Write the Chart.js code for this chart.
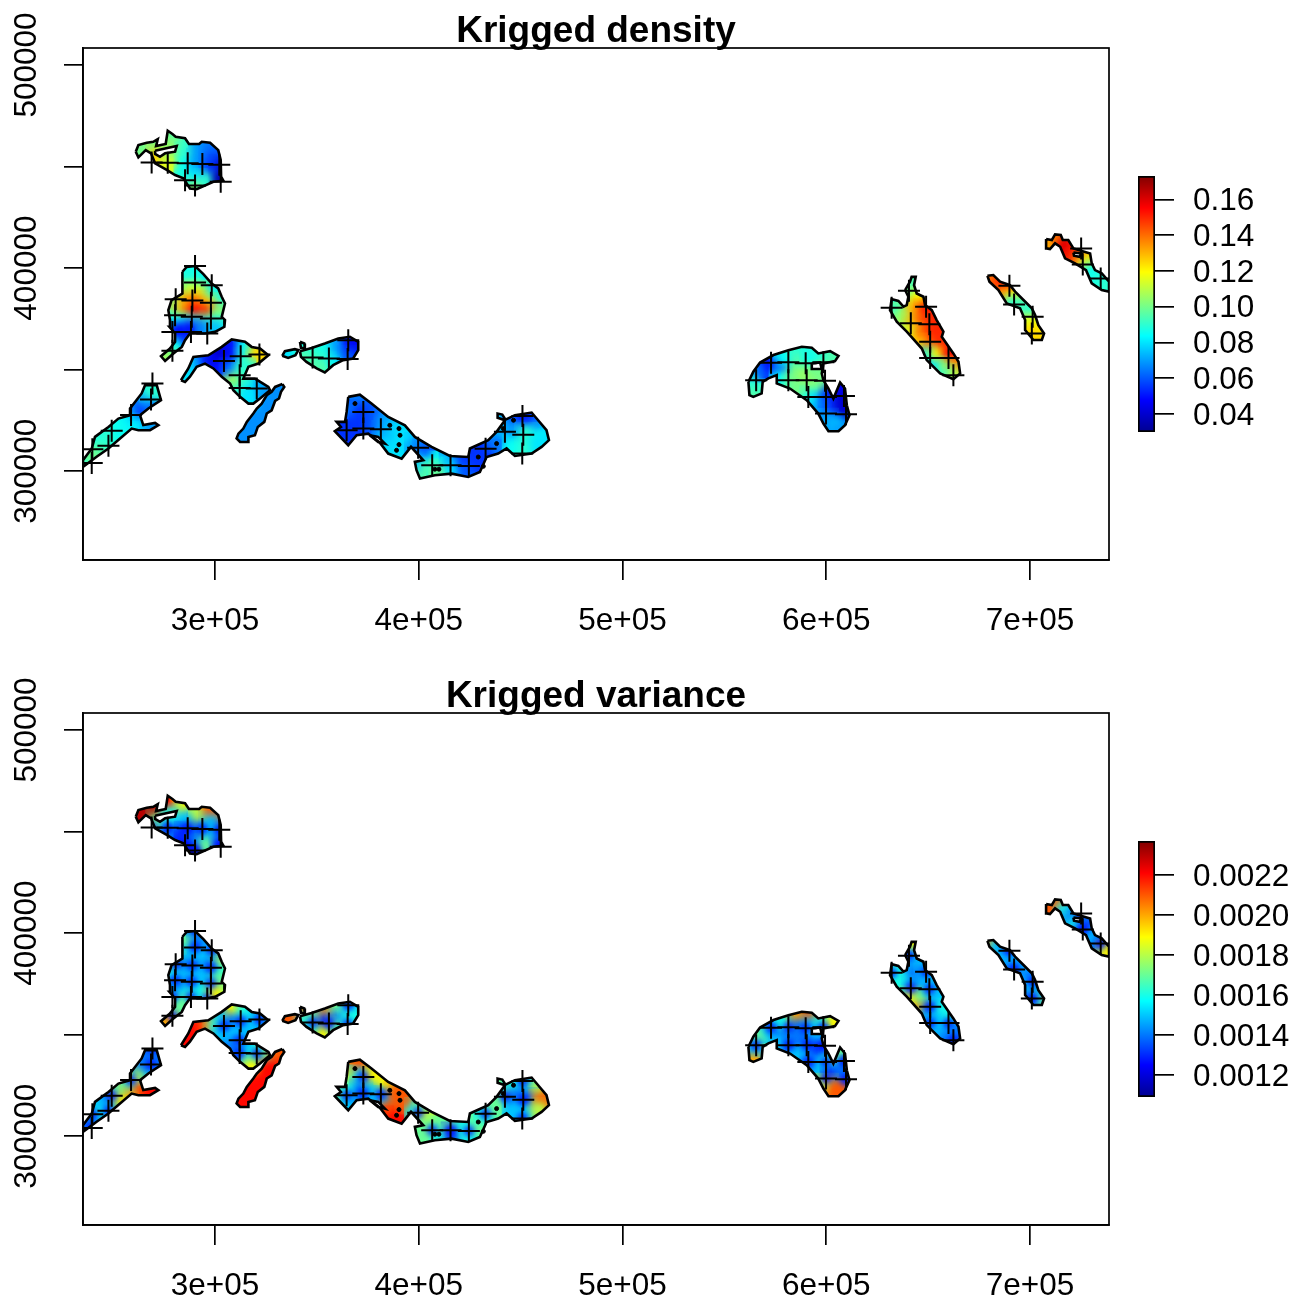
<!DOCTYPE html>
<html>
<head>
<meta charset="utf-8">
<title>Krigged density and variance</title>
<script src="https://cdn.jsdelivr.net/npm/chart.js@4/dist/chart.umd.min.js"></script>
<style>
  html, body { margin: 0; padding: 0; background: #fff; overflow: hidden; }
  canvas { position: absolute; }
</style>
</head>
<body>
<canvas id="densityMap" width="1192" height="632" style="left:0;top:0"></canvas>
<canvas id="varianceMap" width="1192" height="632" style="left:0;top:665px"></canvas>
<canvas id="densityBar" width="168" height="290" style="left:1125px;top:160px"></canvas>
<canvas id="varianceBar" width="168" height="290" style="left:1125px;top:825px"></canvas>
<script>
// Island outlines, in km (easting, northing)
const northIsland = [[261.1,457.3],[262.4,460.6],[266.5,461.7],[269.7,462.2],[271.9,463.5],[271.1,460.1],[275.8,461.1],[276.8,467.6],[279.1,466],[280.7,464.7],[285.3,463.9],[287.2,461.1],[292.2,461.1],[293.5,462.2],[297.6,461.7],[301.6,458.1],[302.8,453.2],[303,445],[304.1,443],[299.2,442.5],[291,438.9],[287.7,439.2],[284.5,444.2],[280.4,445.8],[276.3,448.3],[270.6,451.6],[268.6,456.5],[266,458.1],[262.4,454.5]];
const northHole = [[270.6,457.8],[275.5,458.9],[281.2,460.1],[280.4,457.3],[275.5,456.5],[273,454.8],[270.6,456.2]];
const midIsland = [[284,398.2],[286.1,400.6],[290.2,401],[294.3,397],[298.4,392.4],[301.6,390],[303.3,385.9],[304.9,382.6],[303.3,376],[304.9,374.4],[304.6,371.1],[300,368.6],[295.1,367.8],[287.7,367.8],[285.3,364.5],[283.7,361.2],[279.6,358],[275.5,354.3],[273.5,356.6],[277.9,360.4],[280.4,363.7],[280.4,367.8],[277.6,371.1],[277.9,374.4],[277.1,379.3],[278.7,384.2],[284,387.5],[284,392.4]];
const centerIsland = [[283.3,344.8],[286.9,350.6],[289.4,356.3],[296.7,357.1],[303.3,361.2],[308.2,364.9],[314.7,363.7],[318,361.2],[322.1,360.4],[326.2,357.1],[321.3,353],[316.4,351.4],[313.9,345.6],[319.6,345.6],[326.2,341.5],[327,339.9],[322.1,335.8],[318.8,333.3],[316.4,333.3],[312.3,336.6],[309,339.9],[307.4,343.2],[303.3,346.5],[299.2,350.6],[295.1,353],[291,351.4],[287.7,346.5],[285.3,344]];
const southLake = [[333.1,342.9],[334,341.5],[332.4,339.1],[331.4,335.8],[329.5,334.6],[327.8,330],[325.4,328.4],[324.2,324.3],[321,321.8],[319.6,317.7],[316.4,316.9],[316.4,314.4],[312.3,314.4],[310.6,316.1],[311.5,318.5],[313.9,321],[315.6,324.3],[318.8,328.4],[320.5,330.9],[322.9,333.3],[325.4,337.4],[327.8,339.1],[329.5,341.5]];
const westIsland = [[235.2,305.4],[239.5,311.2],[241.1,316.9],[247.7,321.8],[252.6,325.9],[258.3,327.6],[258.3,330.9],[264,338.3],[265.7,342.4],[271.4,342.4],[273.5,335],[267.3,330.9],[263.2,327.6],[264.8,322.7],[270.6,323.8],[272.2,322.7],[268.1,320.2],[262.4,320.2],[259.1,321],[253.4,316.1],[247.7,311.2],[241.9,307.1],[235.2,302.1]];
const ridgeIslet = [[333,356.8],[334.3,359.1],[339.2,360.1],[340.9,359.6],[339.5,357.1],[335.9,355.8]];
const ridgeTiny = [[341.7,363.7],[343.8,362.9],[344.1,360.7],[342.2,360.7]];
const ridgeIsland = [[341.7,359.1],[347.4,360.7],[353.9,362.9],[360.5,365.3],[366.2,366.2],[370.3,363.7],[370.3,359.6],[367.8,355.5],[362.9,354.7],[358,352.2],[353.9,348.6],[349.9,350.6],[344.9,353.8],[342.2,356.3]];
const bendIsland = [[365.4,336.6],[371.1,337.7],[376.8,333.3],[385,326.7],[393.2,322.6],[398.1,316.9],[406.3,312],[415.3,307.5],[424.3,307],[425.1,311.2],[434.1,315.3],[438.2,319.4],[442.3,325.1],[438.7,326.3],[438.7,328.4],[441,327.9],[442.6,325.4],[447.2,327.6],[455.4,328.9],[458.6,325.1],[462.7,320.2],[463.9,315.3],[460.3,312],[455.4,308.7],[447.2,307.5],[443.1,311.2],[439,308.7],[433.3,307],[430,299.6],[424.3,297.2],[416.1,298.8],[407.9,298],[400.6,296.4],[398.9,300.5],[398.1,304.6],[402.2,305.4],[396.2,312],[391.6,306.2],[385,308.7],[380.9,314.1],[375.2,318.5],[369.5,317.7],[365.4,312.8],[358.8,319.7],[361.8,321.8],[359.7,324.3],[363.8,324.3],[364.6,329.2]];
const bendHole = [[376,317.7],[380.1,316.9],[383.4,313.6],[380.1,314.4]];
const arcIsland = [[561.8,344],[564.2,349],[567.5,353.5],[574.1,357.2],[581.4,359.6],[588,361.3],[592.9,360.8],[596.1,358],[601.9,359.1],[606,356.8],[604.3,354.2],[598.6,353],[597.8,348.1],[598.6,344.8],[601.1,340.7],[603.5,335.8],[606.8,343.7],[609.2,340.7],[610.1,332.5],[611.4,327.6],[609.2,322.7],[606,319.7],[601.1,319.7],[598.6,323.5],[596.1,328.4],[590.4,335],[582.2,340.7],[575.7,343.2],[575.7,347.3],[571.6,345.7],[568.8,344],[568.3,338.3],[564.2,336.6],[562.3,337.5]];
const arcHole = [[592.9,353.1],[597,353.6],[597.8,350.3],[592.9,350.3]];
const diagIsland = [[638.7,389.2],[641.1,393.3],[641.9,395.7],[643.9,395.7],[643.1,391.6],[644.4,387.5],[647.7,385.9],[648.5,381.8],[651.8,379.3],[654.2,374.4],[657.5,368.7],[656.7,366.2],[662.4,358],[664.9,353.9],[665.7,348.1],[662.4,345.3],[655.9,348.1],[649.3,354.7],[646.9,360.4],[639.5,368.7],[634.6,373.6],[631.3,379.3],[632.1,384.7],[635.4,383.8],[637.9,381],[639.5,381.8],[640.3,385.9]];
const narrowIsland = [[679.1,396.2],[682,396.6],[685.3,393.3],[690.2,391.6],[692.7,388.4],[696.8,384.3],[700.9,380.2],[702.5,376.9],[704.1,371.9],[706.9,367.8],[705.8,364.6],[701.7,364.6],[697.6,369.5],[697.6,374.4],[695.1,380.2],[688.6,382.6],[684.5,389.2],[680.1,393.3]];
const edgeIsland = [[707.9,414.3],[710.7,413.8],[712.3,416.6],[715.1,416.3],[716.1,413.8],[718.8,413.8],[721.3,409.7],[729.5,407.2],[730.3,402.3],[731.9,399],[735.2,397.4],[738.8,393.3],[738.8,388.4],[735.2,389.2],[730.3,392.5],[727.5,399],[722.1,402.3],[717.2,404.8],[714.8,410.5],[712.3,412.2],[709.8,409.4],[708.2,409.7]];
const edgeHole = [[721.3,407.7],[725.4,407.2],[724.2,405.6],[721.6,406.1]];

// Sampling stations (the + marks), km
const stations = [[268.9,452],[276.8,451.9],[286.6,451.6],[293.8,451.2],[302.1,450.9],[285.3,443.3],[290.2,440.6],[302.8,442.5],
  [290.2,401],[290.2,392.9],[298.4,391.6],[280.7,384.7],[288.9,384.1],[298,382.9],[280.4,376.8],[288.6,376],[298,375.2],[279.1,368.6],[288.2,368.5],[296.2,367.8],[279.1,359.3],
  [304.4,354.3],[312.6,356.6],[321.8,357.5],[312.1,347.3],[312.1,341],[320.5,340.7],
  [269.3,343.2],[268.6,335.3],[258.8,327.7],[249.3,319.9],[247.7,312.5],[239.8,310.8],[239.5,304.1],
  [365.4,364.5],[365.1,355.2],[355.9,355.5],[347.9,356],
  [364.6,320.2],[372.8,329.2],[372.8,321],[381.4,320.7],[399.7,311.5],[406.6,302.9],[415.6,302.9],[424.6,302.6],[432.8,311.1],[442.3,319.4],[451.3,318],[450.8,308.7],[450.9,327.2],
  [565.6,344.8],[572.9,353.4],[581.4,353.6],[589.9,353.1],[598.6,353.6],[581.4,344.8],[590.4,344.8],[599.4,344.5],[591.2,336.6],[599.9,336.6],[608.7,337],[599.9,328.4],[609.7,328.1],
  [640.6,388.9],[632.1,380.5],[649,381],[641.5,372.8],[650.6,372.4],[651,363.7],[651,355.8],[660,355.8],[662.4,347.3],
  [689.9,391.3],[692.2,382.1],[701.3,376],[700.9,367.8],[725.1,409.7],[725.9,401.8],[734.7,394.9]];
// Tiny islets inside the lakes, km
const islets = [[368.7,333.3],[385.8,322.6],[390.3,321],[390.8,317.7],[390.3,313.1],[389.1,310.3],[407.9,301],[409.9,301],[431.7,302.4],[429.2,307],[438.2,313.6],[441.5,321],[446.5,325.1]];

// Field readings per island: easting km, northing km, density, variance
const northField = [[264,459,.1,.0023],[270,460,.1,.0023],[277,464,.1,.0022],[284,462,.092,.0019],[272,455,.125,.0017],[278,452,.115,.0014],[278,458,.105,.0016],[286,456,.09,.0015],[286,449,.085,.0013],[286,444,.088,.0013],[291,441,.105,.0012],[291,447,.08,.0014],[292,453,.07,.0014],[293,459,.07,.0018],[298,460,.065,.0021],[303,456,.06,.0021],[298,454,.06,.0015],[303,450,.04,.0014],[298,448,.055,.0015],[296,443,.09,.0017],[303,444,.035,.0013]];
const midField = [[290,399,.085,.0015],[286,395,.088,.0017],[292,394,.088,.0014],[298,391,.08,.0015],[287,389,.11,.0015],[293,388,.115,.0015],[299,386,.09,.0015],[303,385,.085,.0018],[280,385,.1,.0017],[285,383,.13,.0014],[291,383,.14,.0015],[297,382,.125,.0014],[303,380,.095,.0016],[279,378,.1,.0016],[284,378,.13,.0015],[290,378,.155,.0015],[296,378,.15,.0015],[302,377,.105,.0017],[279,373,.085,.0015],[284,373,.085,.0014],[290,373,.09,.0015],[297,373,.095,.0015],[303,373,.09,.0017],[282,369,.048,.0015],[288,370,.048,.0016],[294,370,.065,.0016],[300,370,.075,.0019],[284,365,.05,.0017],[280,361,.085,.0017],[276,356,.105,.002]];
const centerField = [[285,345,.08,.0022],[288,350,.08,.0022],[291,354,.075,.0022],[296,355,.055,.0021],[300,355,.045,.0017],[304,358,.04,.0015],[303,351,.05,.0015],[309,362,.05,.0019],[309,356,.05,.0014],[308,350,.065,.0015],[315,361,.085,.0016],[315,355,.09,.0015],[321,358,.125,.0015],[314,350,.09,.0015],[310,344,.105,.0014],[316,345,.09,.0015],[322,342,.075,.0016],[311,338,.09,.0014],[317,338,.08,.0016],[318,334,.08,.0019],[325,340,.07,.0017]];
const southField = [[331,340,.068,.0021],[327,333,.068,.0022],[322,326,.068,.0022],[317,320,.068,.0022],[313,316,.068,.0022]];
const westField = [[236,304,.09,.0014],[240,309,.1,.0014],[244,313,.095,.0016],[244,318,.088,.0015],[249,316,.09,.0015],[249,321,.09,.0014],[254,319,.085,.0019],[254,324,.085,.0017],[259,322,.085,.002],[260,327,.08,.0016],[264,324,.08,.0021],[269,322,.07,.0022],[264,331,.055,.0018],[269,331,.06,.0015],[266,336,.07,.0014],[269,340,.09,.0014]];
const ridgeField = [[336,357,.08,.0021],[339,359,.08,.0021],[342,362,.085,.0021],[344,357,.095,.0016],[349,359,.09,.0017],[349,353,.095,.0016],[355,361,.085,.002],[355,356,.09,.0013],[354,350,.095,.0019],[361,363,.07,.0017],[361,357,.07,.0014],[360,353,.085,.0017],[367,364,.05,.0015],[368,359,.045,.0016],[366,356,.06,.0016]];
const bendField = [[361,321,.055,.0017],[366,317,.055,.0015],[366,324,.055,.0016],[367,331,.065,.0018],[371,336,.065,.0021],[372,329,.055,.0015],[372,322,.055,.0014],[378,329,.06,.0019],[378,322,.06,.0015],[384,325,.07,.0019],[383,319,.072,.0015],[389,321,.078,.0021],[386,313,.078,.0021],[389,309,.08,.0022],[394,317,.08,.0021],[399,313,.07,.0016],[403,310,.06,.0018],[400,304,.075,.0017],[405,301,.095,.0017],[410,304,.085,.0017],[411,300,.1,.0016],[416,305,.07,.0017],[417,301,.08,.0013],[423,305,.055,.0016],[424,300,.06,.0016],[430,306,.055,.0017],[433,311,.055,.0016],[438,315,.065,.0017],[442,322,.075,.0017],[447,326,.06,.0016],[453,326,.05,.0015],[458,322,.065,.0018],[447,319,.07,.0014],[453,318,.09,.0014],[460,317,.085,.0021],[463,316,.08,.0021],[447,312,.085,.0015],[453,311,.09,.0015],[459,313,.08,.0018]];
const arcField = [[564,339,.095,.002],[564,345,.09,.0015],[568,350,.065,.0017],[573,352,.05,.0015],[578,351,.06,.0014],[580,356,.085,.0016],[586,359,.09,.002],[592,359,.088,.0021],[587,353,.095,.0014],[593,354,.085,.0015],[599,357,.09,.0016],[604,356,.095,.0019],[578,345,.085,.0015],[584,346,.1,.0014],[590,347,.105,.0014],[596,349,.1,.0015],[593,342,.105,.0014],[588,340,.1,.0015],[597,343,.1,.0013],[593,336,.085,.0014],[598,334,.07,.0015],[602,337,.055,.0016],[606,340,.045,.0017],[603,330,.055,.0013],[609,334,.04,.0014],[609,328,.04,.0014],[600,325,.07,.0018],[605,323,.075,.0021],[607,320,.07,.0021]];
const diagField = [[642,393,.095,.0019],[641,388,.095,.0015],[645,385,.12,.0015],[634,380,.09,.0016],[638,377,.105,.0016],[644,380,.13,.0014],[649,379,.152,.0015],[638,372,.105,.0016],[643,373,.13,.0014],[648,373,.145,.0015],[653,372,.15,.0015],[642,368,.115,.0019],[647,367,.14,.0017],[653,367,.15,.0015],[646,362,.125,.002],[651,361,.14,.0014],[656,362,.15,.0016],[650,357,.085,.0015],[655,357,.12,.0015],[661,357,.155,.0016],[654,351,.08,.0015],[659,351,.105,.0015],[664,351,.135,.0014],[659,347,.09,.0014],[663,346,.11,.0014]];
const narrowField = [[680,395,.135,.002],[684,393,.145,.0015],[689,390,.155,.0014],[687,386,.135,.0015],[692,386,.12,.0015],[696,381,.095,.0015],[691,382,.09,.0014],[700,378,.09,.0014],[700,373,.115,.0015],[703,370,.12,.0015],[704,366,.125,.0017],[700,367,.125,.0014]];
const edgeField = [[709,412,.13,.0021],[713,415,.135,.0021],[717,411,.16,.0016],[720,407,.158,.0014],[724,409,.15,.0014],[729,406,.125,.0014],[723,404,.145,.0016],[727,402,.115,.0013],[730,398,.085,.0015],[734,394,.088,.0014],[738,391,.09,.0019]];

const xTicks = [300000, 400000, 500000, 600000, 700000];
const yTicks = [300000, 350000, 400000, 450000, 500000];
const yLabelled = [300000, 400000, 500000];
const densityTicks = [0.04, 0.06, 0.08, 0.10, 0.12, 0.14, 0.16];
const varianceTicks = [0.0012, 0.0014, 0.0016, 0.0018, 0.0020, 0.0022];
const densityRange = [0.0299, 0.1732];
const varianceRange = [0.00109, 0.00237];
const sampleVariance = 0.00125;
const paletteStops = [0, 0.125, 0.375, 0.625, 0.875, 1];
const paletteColors = [[0,0,143],[0,0,255],[0,255,255],[255,255,0],[255,0,0],[128,0,0]];

const rings = [northIsland, northHole, midIsland, centerIsland, southLake, westIsland, ridgeIslet, ridgeTiny, ridgeIsland, bendIsland, bendHole, arcIsland, arcHole, diagIsland, narrowIsland, edgeIsland, edgeHole];
const fields = [].concat(northField, midField, centerField, southField, westField, ridgeField, bendField, arcField, diagField, narrowField, edgeField);

const FONT = '"Liberation Sans", Arial, sans-serif';

function paletteColor(t) {
  t = Math.max(0, Math.min(1, t));
  let i = 0;
  while (i < paletteStops.length - 2 && t > paletteStops[i + 1]) i++;
  const f = (t - paletteStops[i]) / (paletteStops[i + 1] - paletteStops[i]);
  const c = paletteColors[i].map((v, k) => Math.round(v + (paletteColors[i + 1][k] - v) * f));
  return `rgb(${c[0]},${c[1]},${c[2]})`;
}

function toPoint(p) {
  return { x: p[0] * 1000, y: p[1] * 1000 };
}

// Keeps the coloured cells inside the island outlines, and softens them
const islandClip = {
  id: 'islandClip',
  beforeDatasetDraw(chart, args) {
    const ds = chart.data.datasets[args.index];
    if (!ds.clipToIslands) return;
    const { ctx, scales } = chart;
    ctx.save();
    ctx.beginPath();
    rings.forEach(ring => {
      ring.forEach((p, i) => {
        const px = scales.x.getPixelForValue(p[0] * 1000);
        const py = scales.y.getPixelForValue(p[1] * 1000);
        if (i === 0) ctx.moveTo(px, py); else ctx.lineTo(px, py);
      });
      ctx.closePath();
    });
    ctx.clip('evenodd');
    if (ds.softness) ctx.filter = `blur(${ds.softness}px)`;
  },
  afterDatasetDraw(chart, args) {
    if (chart.data.datasets[args.index].clipToIslands) chart.ctx.restore();
  }
};

// R style box round the plot
const plotBox = {
  id: 'plotBox',
  afterDraw(chart) {
    const { ctx, chartArea: a } = chart;
    ctx.save();
    ctx.strokeStyle = '#000';
    ctx.lineWidth = 1.7;
    ctx.strokeRect(a.left, a.top, a.right - a.left, a.bottom - a.top);
    ctx.restore();
  }
};

function makeMap(id, title, valueIndex, range) {
  const cellPoints = fields.map(toPoint);
  const cellColors = fields.map(f => paletteColor((f[valueIndex] - range[0]) / (range[1] - range[0])));
  const datasets = [];

  datasets.push({ data: cellPoints, pointStyle: 'rect', pointRadius: 18, pointBorderWidth: 0, backgroundColor: cellColors, order: 6, clipToIslands: true });
  datasets.push({ data: cellPoints, pointStyle: 'rect', pointRadius: 11, pointBorderWidth: 0, backgroundColor: cellColors, order: 5, clipToIslands: true, softness: 4 });
  if (valueIndex === 3) {
    const low = paletteColor((sampleVariance - range[0]) / (range[1] - range[0]));
    datasets.push({ data: stations.map(toPoint), pointStyle: 'circle', pointRadius: 5, pointBorderWidth: 0, backgroundColor: low, order: 4, clipToIslands: true, softness: 3 });
  }
  rings.forEach(ring => {
    datasets.push({
      data: ring.concat([ring[0]]).map(toPoint),
      showLine: true, pointRadius: 0, borderColor: '#000', borderWidth: 2.6, fill: false, tension: 0, order: 3
    });
  });
  datasets.push({ data: islets.map(toPoint), pointStyle: 'circle', pointRadius: 2, backgroundColor: '#000', borderColor: '#000', order: 2 });
  datasets.push({ data: stations.map(toPoint), pointStyle: 'cross', pointRadius: 11, pointBorderWidth: 2, borderColor: '#000', backgroundColor: '#000', order: 1 });

  return new Chart(document.getElementById(id), {
    type: 'scatter',
    data: { datasets },
    options: {
      responsive: false,
      animation: false,
      events: [],
      plugins: {
        legend: { display: false },
        tooltip: { enabled: false },
        title: {
          display: true,
          text: title,
          color: '#000',
          font: { family: FONT, size: 37, weight: 'bold', lineHeight: 1 },
          padding: { top: 13, bottom: -2 }
        }
      },
      scales: {
        x: {
          type: 'linear',
          min: 235215,
          max: 738773,
          afterFit: s => { s.height = 72; s.paddingLeft = 0; s.paddingRight = 0; },
          afterBuildTicks: s => { s.ticks = xTicks.map(v => ({ value: v })); },
          grid: { drawOnChartArea: false, color: '#000', lineWidth: 1.7, tickLength: 20 },
          border: { color: '#000', width: 1.7 },
          ticks: {
            autoSkip: false,
            maxRotation: 0,
            color: '#000',
            padding: 22,
            font: { family: FONT, size: 31.5 },
            callback: v => `${v / 100000}e+05`
          }
        },
        y: {
          type: 'linear',
          min: 256300,
          max: 508350,
          afterFit: s => { s.width = 83; s.paddingTop = 0; s.paddingBottom = 0; },
          afterBuildTicks: s => { s.ticks = yTicks.map(v => ({ value: v })); },
          grid: { drawOnChartArea: false, color: '#000', lineWidth: 1.7, tickLength: 19 },
          border: { color: '#000', width: 1.7 },
          ticks: {
            autoSkip: false,
            minRotation: 90,
            maxRotation: 90,
            crossAlign: 'center',
            padding: -16,
            color: '#000',
            font: { family: FONT, size: 31.5 },
            callback: v => yLabelled.includes(v) ? String(v) : ''
          }
        },
        // empty axis, only keeps the title centred on the plot
        yRight: {
          type: 'linear',
          position: 'right',
          afterFit: s => { s.width = 83; s.paddingTop = 0; s.paddingBottom = 0; },
          grid: { display: false },
          border: { display: false },
          ticks: { display: false }
        }
      }
    },
    plugins: [islandClip, plotBox]
  });
}

function makeColorBar(id, range, tickValues, digits) {
  return new Chart(document.getElementById(id), {
    type: 'bar',
    data: {
      labels: [''],
      datasets: [{
        data: [range],
        barPercentage: 1,
        categoryPercentage: 1,
        borderWidth: 2,
        borderColor: '#000',
        borderSkipped: false,
        backgroundColor: c => {
          const a = c.chart.chartArea;
          if (!a) return '#000';
          const g = c.chart.ctx.createLinearGradient(0, a.bottom, 0, a.top);
          paletteStops.forEach(s => g.addColorStop(s, paletteColor(s)));
          return g;
        }
      }]
    },
    options: {
      responsive: false,
      animation: false,
      events: [],
      layout: { padding: { left: 13, right: 0, top: 16, bottom: 18 } },
      plugins: { legend: { display: false }, tooltip: { enabled: false } },
      scales: {
        x: { display: false },
        y: {
          position: 'right',
          min: range[0],
          max: range[1],
          afterFit: s => { s.width = 138; s.paddingTop = 0; s.paddingBottom = 0; },
          afterBuildTicks: s => { s.ticks = tickValues.map(v => ({ value: v })); },
          grid: { drawOnChartArea: false, color: '#000', lineWidth: 1.7, tickLength: 19 },
          border: { display: false },
          ticks: {
            autoSkip: false,
            color: '#000',
            padding: 19,
            labelOffset: 2,
            font: { family: FONT, size: 31.5 },
            callback: v => v.toFixed(digits)
          }
        }
      }
    }
  });
}

makeMap('densityMap', 'Krigged density', 2, densityRange);
makeMap('varianceMap', 'Krigged variance', 3, varianceRange);
makeColorBar('densityBar', densityRange, densityTicks, 2);
makeColorBar('varianceBar', varianceRange, varianceTicks, 4);
</script>
</body>
</html>
